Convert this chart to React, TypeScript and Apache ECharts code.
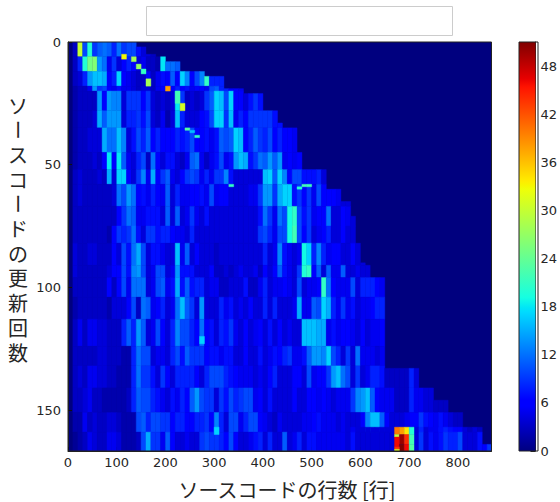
import React, { useEffect, useRef } from "react";
import * as echarts from "echarts";

const xTitle = "ソースコードの行数 [行]";
const yTitleChars = ["ソ", "ー", "ス", "コ", "ー", "ド", "の", "更", "新", "回", "数"];
const colWidth = 10;
const xMax = 869;
const yMax = 166.7;
const barMax = 51.1;

// right edge of the filled area: [first row, number of filled columns]
const edges = [
  [0, 14], [2, 16], [5, 18], [6, 20], [8, 23], [12, 28], [14, 32], [19, 36], [21, 40], [28, 43],
  [33, 44], [35, 47], [45, 48], [52, 53], [60, 56], [65, 58], [71, 59], [82, 60], [90, 62], [96, 65],
  [133, 72], [141, 75], [146, 78], [151, 81], [157, 85], [164, 87],
];

// bands: [first row, end row, value per column]; -1 leaves a column to the band below it
const b00 = [0, 3, 30, 10, 20, 9, 11, 12, 11, 8, 12, 9, 10, 10, 7, 4, 4, 3];
const b06 = [0, 3, 8, 20, 25, 26, 14, 12, 5, 9, 4, 6, 8, 6, 4, 5, 3, 3, 2, 18, 12, 12, 11, 11];
const b12 = [0, 3, 4, 8, 14, 16, 16, 15, 6, 8, 17, 6, 5, 4, 3, 3, 6, 3, 5, 7, 6, 11, 6, 17, 13, 6, 10, 13, 21, 8, 8, 8];
const b18 = [0, 2, 3, 3, 5, 14, 9, 10, 6, 5, 7, 5, 5, 4, 3, 4, 4, 3, 5, 6, 7, 6, 8, 6, 7, 5, 6, 6, 5, 10, 11, 8, 8, 6, 6, 5];
const b20 = [0, 2, 3, 3, 3, 3, 14, 6, 14, 13, 13, 4, 9, 9, 9, 6, 9, 4, 3, 4, 3, 4, 18, 9, 3, 4, 3, 4, 9, 11, 17, 16, 10, 17, 6, 6, 4, 7, 9, 7, 10];
const b28 = [0, 2, 3, 3, 3, 4, 15, 11, 14, 14, 14, 4, 8, 8, 9, 7, 10, 4, 3, 5, 2, 4, 16, 8, 4, 4, 4, 6, 7, 10, 17, 17, 9, 16, 5, 8, 6, 9, 9, 9, 9, 9, 7, 7];
const b35 = [0, 2, 3, 3, 4, 4, 4, 15, 12, 12, 16, 13, 4, 7, 10, 8, 11, 6, 8, 6, 6, 6, 8, 7, 8, 10, 6, 6, 7, 5, 7, 11, 10, 11, 17, 16, 6, 8, 11, 9, 8, 10, 6, 8, 6, 6, 5];
const b45 = [0, 2, 3, 3, 3, 4, 3, 6, 18, 6, 18, 11, 5, 4, 8, 10, 3, 12, 6, 4, 7, 7, 4, 3, 5, 11, 12, 5, 3, 5, 7, 10, 5, 7, 14, 16, 15, 7, 9, 12, 11, 14, 11, 14, 5, 6, 5, 6];
const b52 = [0, 3, 4, 3, 3, 3, 4, 3, 15, 4, 17, 17, 6, 4, 9, 13, 5, 15, 6, 9, 11, 5, 4, 6, 9, 10, 9, 5, 8, 5, 9, 9, 13, 7, 4, 4, 4, 4, 4, 4, 16, 17, 11, 17, 13, 6, 10, 10, 7, 7, 7, 8, 4];
const b58 = [0, 3, 4, 3, 3, 3, 3, 3, 3, 4, 12, 10, 14, 12, 6, 7, 5, 8, 6, 5, 11, 4, 8, 5, 5, 6, 6, 7, 5, 10, 5, 6, 6, 4, 4, 4, 4, 5, 5, 9, 14, 14, 9, 15, 17, 17, 7, 9, 6, 9, 5, 10, 6, 6, 6, 5, 4, 4];
const b67 = [0, 3, 3, 3, 3, 3, 3, 3, 3, 3, 6, 9, 12, 11, 5, 5, 7, 7, 7, 4, 11, 4, 11, 4, 5, 9, 5, 4, 7, 4, 4, 4, 4, 4, 4, 4, 4, 4, 4, 7, 12, 9, 5, 12, 10, 19, 21, 10, 7, 9, 5, 6, 6, 12, 4, 4, 6, 5, 4];
const b75 = [0, 3, 3, 3, 3, 3, 3, 3, 2, 6, 9, 8, 9, 12, 7, 4, 9, 9, 7, 8, 8, 6, 5, 5, 4, 8, 4, 4, 4, 4, 4, 4, 4, 4, 4, 4, 4, 4, 4, 9, 10, 8, 5, 10, 10, 19, 22, 10, 6, 9, 4, 5, 6, 8, 4, 4, 6, 4, 4];
const b82 = [0, 4, 3, 3, 4, 4, 3, 3, 3, 6, 4, 10, 7, 12, 15, 10, 4, 7, 7, 5, 4, 4, 16, 5, 11, 4, 6, 4, 4, 4, 3, 4, 4, 4, 4, 4, 4, 4, 4, 4, 8, 4, 5, 13, 7, 5, 4, 5, 19, 17, 8, 13, 8, 5, 6, 6, 4, 4, 6, 4, 4];
const b91 = [0, 4, 3, 3, 3, 3, 3, 3, 4, 6, 6, 10, 7, 13, 14, 10, 4, 5, 10, 10, 4, 5, 14, 7, 7, 7, 4, 4, 4, 6, 3, 3, 4, 3, 4, 5, 4, 4, 5, 3, 6, 4, 6, 11, 7, 5, 4, 9, 20, 21, 6, 11, 4, 11, 5, 5, 11, 4, 4, 5, 4, 4];
const b96 = [0, 3, 3, 3, 3, 3, 3, 3, 6, 3, 6, 10, 5, 12, 12, 12, 4, 5, 10, 11, 5, 7, 15, 7, 11, 7, 8, 8, 4, 5, 5, 3, 3, 4, 4, 4, 7, 3, 3, 5, 8, 4, 5, 5, 6, 5, 4, 10, 4, 5, 5, 6, 21, 12, 6, 5, 5, 5, 10, 4, 8, 8, 8, 6, 5];
const b104 = [0, 2, 3, 3, 3, 3, 3, 3, 2, 4, 4, 4, 6, 10, 3, 12, 11, 5, 6, 8, 4, 5, 12, 16, 11, 9, 4, 14, 4, 4, 4, 8, 5, 7, 4, 5, 4, 6, 4, 4, 8, 4, 8, 4, 4, 4, 5, 15, 5, 5, 11, 10, 17, 15, 8, 5, 9, 5, 7, 4, 5, 5, 6, 8, 8];
const b113 = [0, 3, 5, 3, 5, 5, 4, 4, 3, 3, 3, 8, 11, 8, 14, 11, 4, 5, 10, 6, 4, 8, 13, 10, 10, 8, 6, 12, 6, 7, 4, 8, 7, 9, 5, 4, 6, 4, 5, 6, 4, 7, 4, 6, 4, 5, 4, 4, 16, 16, 16, 15, 15, 5, 7, 5, 6, 6, 5, 4, 6, 4, 5, 5, 6];
const b124 = [0, 3, 3, 3, 3, 3, 4, 4, 3, 3, 3, 2, 2, 8, 12, 10, 10, 4, 5, 5, 4, 8, 10, 7, 11, 9, 9, 9, 6, 7, 7, 5, 7, 7, 4, 4, 6, 4, 4, 7, 4, 5, 7, 6, 8, 9, 5, 5, 7, 11, 14, 14, 13, 17, 10, 8, 4, 9, 4, 12, 5, 5, 5, 4, 5];
const b132 = [0, 3, 4, 3, 5, 5, 4, 4, 3, 3, 2, 2, 2, 8, 12, 9, 9, 7, 4, 9, 6, 4, 8, 8, 8, 8, 6, 4, 8, 10, 10, 10, 8, 7, 6, 5, 5, 5, 4, 5, 4, 6, 8, 4, 4, 4, 6, 6, 4, 10, 5, 6, 6, 9, 14, 16, 12, 10, 4, 9, 4, 5, 8, 8, 7, 3, 3, 3, 3, 3, 8, 4];
const b141 = [0, 3, 3, 4, 5, 3, 3, 2, 2, 2, 2, 2, 3, 8, 11, 10, 10, 8, 7, 5, 4, 7, 5, 8, 6, 11, 14, 10, 9, 9, 4, 9, 7, 10, 8, 9, 10, 10, 5, 6, 4, 7, 4, 4, 4, 4, 6, 4, 4, 6, 6, 5, 6, 5, 4, 5, 5, 5, 9, 13, 14, 16, 11, 6, 5, 5, 5, 3, 3, 3, 8, 5, 5, 4, 4, 3, 3, 3];
const b151 = [0, 2, 2, 5, 3, 4, 3, 3, 4, 4, 3, 2, 2, 2, 10, 11, 8, 10, 10, 9, 9, 6, 8, 8, 6, 6, 8, 8, 9, 6, 13, 8, 4, 10, 10, 5, 8, 10, 10, 6, 5, 4, 3, 5, 4, 4, 4, 4, 5, 5, 6, 7, 5, 5, 5, 4, 5, 4, 4, 4, 6, 13, 16, 16, 11, 6, 4, 4, 4, 5, 6, 6, 9, 7, 6, 5, 7, 5, 4, 3, 3];
const b157 = [-1, -1, -1, -1, -1, -1, -1, -1, -1, -1, -1, -1, -1, -1, -1, -1, -1, -1, -1, -1, -1, -1, -1, -1, -1, -1, -1, -1, -1, -1, -1, -1, -1, -1, -1, -1, -1, -1, -1, -1, -1, -1, -1, -1, -1, -1, -1, -1, -1, -1, -1, -1, -1, -1, -1, -1, -1, 4, 5, 4, 4, 4, 4, 4, 4, 4, 4, 4, 4, 4, 4, 4, 8, 4, 5, 5, 7, 8, 7, 6, 6, 4, 3, 4, 3];
const b159 = [0, 1, 2, 3, 5, 4, 3, 3, 5, 5, 4, 2, 2, 2, 3, 10, 15, 9, 9, 5, 11, 6, 4, 4, 5, 4, 4, 9, 10, 9, 9, 8, 6, 10, 6, 4, 4, 5, 7, 8, 4, 8, 4, 4, 11, 4, 5, 8, 4, 7, 7, 5, 5, 5, 5, 5, 5, 4, 7, 4, 4, 4, 4, 4, 4, 4, 4, 4, 4, 4, 4, 4, 9, 4, 7, 5, 7, 9, 8, 8, 10, 4, 4, 4, 7, 6, 9];

const bands: [number, number, number[]][] = [
  [0, 6, b00], [6, 12, b06], [12, 18, b12], [18, 20, b18], [20, 28, b20], [28, 35, b28], [35, 45, b35],
  [45, 52, b45], [52, 58, b52], [58, 67, b58], [67, 75, b67], [75, 82, b75], [82, 91, b82], [91, 96, b91],
  [96, 104, b96], [104, 113, b104], [113, 124, b113], [124, 132, b124], [132, 141, b132], [141, 151, b141],
  [151, 159, b151], [157, 159, b157], [159, 167, b159],
];

// single bright cells: [column, first row, end row, value]
const spots = [
  [11, 5, 7, 33], [13, 6, 8, 28], [14, 9, 11, 27], [15, 11, 13, 21], [16, 15, 18, 28], [20, 18, 20, 38],
  [22, 20, 25, 22], [23, 25, 28, 31], [24, 35, 36, 23], [25, 36, 37, 16], [26, 38, 39, 21],
  [33, 58, 59, 21], [48, 58, 59, 22], [49, 58, 59, 22], [47, 59, 60, 20],
  [27, 120, 123, 17], [30, 157, 160, 17],
  [67, 157, 160, 40], [68, 157, 160, 38], [69, 157, 160, 34], [70, 157, 160, 20],
  [67, 160, 161, 30], [68, 160, 164, 50], [69, 160, 164, 44], [70, 160, 164, 22], [67, 161, 165, 46],
  [68, 164, 167, 51], [69, 164, 167, 46], [70, 164, 167, 23], [67, 165, 166, 44], [67, 166, 167, 32],
];

const jetR = [[0, 0], [0.35, 0], [0.66, 1], [0.89, 1], [1, 0.5]];
const jetG = [[0, 0], [0.125, 0], [0.375, 1], [0.64, 1], [0.91, 0], [1, 0]];
const jetB = [[0, 0.5], [0.11, 1], [0.34, 1], [0.65, 0], [1, 0]];
const jetStops = [0, 0.11, 0.125, 0.34, 0.35, 0.375, 0.64, 0.65, 0.66, 0.89, 0.91, 1];

function channel(t: number, table: number[][]) {
  for (let i = 1; i < table.length; i++) {
    if (t <= table[i][0]) {
      const [a, av] = table[i - 1];
      const [b, bv] = table[i];
      return Math.round(255 * (av + ((t - a) / (b - a)) * (bv - av)));
    }
  }
  return Math.round(255 * table[table.length - 1][1]);
}
function jet(t: number) {
  const c = Math.max(0, Math.min(1, t));
  return `rgb(${channel(c, jetR)},${channel(c, jetG)},${channel(c, jetB)})`;
}

function edgeAt(row: number) {
  let e = 0;
  for (const [r, c] of edges) if (row >= r) e = c;
  return e;
}

function buildCells() {
  const out: number[][] = [];
  for (const [r0, r1, vals] of bands) {
    vals.forEach((v, col) => {
      if (v <= 0) return;
      let start = -1;
      for (let r = r0; r <= r1; r++) {
        const on = r < r1 && col < edgeAt(r);
        if (on && start < 0) start = r;
        if (!on && start >= 0) {
          out.push([col * colWidth, start, (col + 1) * colWidth, r, v]);
          start = -1;
        }
      }
    });
  }
  for (const [col, r0, r1, v] of spots) out.push([col * colWidth, r0, (col + 1) * colWidth, r1, v]);
  return out;
}

const axisText = { color: "#262626", fontFamily: "DejaVu Sans", fontSize: 13 };

export default function App() {
  const ref = useRef<HTMLDivElement>(null);
  useEffect(() => {
    document.body.style.margin = "0";
    const chart = echarts.init(ref.current!, null, { renderer: "svg" });
    chart.setOption({
      animation: false,
      backgroundColor: "#fff",
      grid: [
        { left: 68, top: 42, width: 423.5, height: 409, show: true, backgroundColor: "#00007f", borderWidth: 0 },
        { left: 519, top: 42, width: 19, height: 409 },
      ],
      xAxis: [
        {
          type: "value", gridIndex: 0, min: 0, max: xMax, interval: 100, position: "bottom",
          axisLine: { onZero: false, lineStyle: { color: "#222" } },
          axisTick: { inside: true, length: 4, lineStyle: { color: "#111" } },
          axisLabel: { ...axisText, margin: 5, showMaxLabel: false, hideOverlap: false },
          splitLine: { show: false },
        },
        { type: "value", gridIndex: 1, min: 0, max: 1, show: false },
      ],
      yAxis: [
        {
          type: "value", gridIndex: 0, min: 0, max: yMax, interval: 50, inverse: true,
          axisLine: { onZero: false, lineStyle: { color: "#222" } },
          axisTick: { inside: true, length: 4, lineStyle: { color: "#111" } },
          axisLabel: { ...axisText, margin: 7, showMaxLabel: false },
          splitLine: { show: false },
        },
        {
          type: "value", gridIndex: 1, min: 0, max: barMax, interval: 6, position: "right",
          axisLine: { onZero: false, lineStyle: { color: "#222" } },
          axisTick: { inside: true, length: 5, lineStyle: { color: "#222" } },
          axisLabel: { ...axisText, margin: 5, showMaxLabel: false },
          splitLine: { show: false },
        },
      ],
      series: [
        {
          type: "custom", xAxisIndex: 0, yAxisIndex: 0, silent: true, clip: true,
          data: buildCells(),
          encode: { x: [0, 2], y: [1, 3] },
          renderItem: (_p: any, api: any) => {
            const a = api.coord([api.value(0), api.value(1)]);
            const b = api.coord([api.value(2), api.value(3)]);
            const fill = jet(api.value(4) / barMax);
            return {
              type: "rect",
              shape: { x: a[0], y: a[1], width: b[0] - a[0], height: b[1] - a[1] },
              style: { fill, stroke: fill, lineWidth: 0.4 },
            };
          },
        },
        {
          type: "custom", xAxisIndex: 1, yAxisIndex: 1, silent: true,
          data: [[0, 0, 1, barMax]],
          encode: { x: [0, 2], y: [1, 3] },
          renderItem: (_p: any, api: any) => {
            const a = api.coord([api.value(0), api.value(1)]);
            const b = api.coord([api.value(2), api.value(3)]);
            return {
              type: "rect",
              shape: { x: a[0], y: b[1], width: b[0] - a[0], height: a[1] - b[1] },
              style: {
                fill: new echarts.graphic.LinearGradient(
                  0, 1, 0, 0,
                  jetStops.map((s) => ({ offset: s, color: jet(s) })),
                ),
              },
            };
          },
        },
      ],
      graphic: [
        { type: "rect", shape: { x: 146.5, y: 6.5, width: 306, height: 29 }, style: { fill: "#fff", stroke: "#ccc", lineWidth: 1 } },
        { type: "rect", z: 100, shape: { x: 68, y: 42, width: 423.5, height: 409 }, style: { fill: "none", stroke: "#222", lineWidth: 1 } },
        { type: "rect", z: 100, shape: { x: 519, y: 42, width: 19, height: 409 }, style: { fill: "none", stroke: "#222", lineWidth: 1 } },
        {
          type: "text", x: 287, y: 489,
          style: { text: xTitle, font: '20px "Noto Sans CJK JP"', fill: "#262626", textAlign: "center", textVerticalAlign: "middle" },
        },
        ...yTitleChars.map((ch, i) => ({
          type: "text",
          x: 18,
          y: 105 + i * 24.7,
          rotation: ch === "ー" ? -Math.PI / 2 : 0,
          style: { text: ch, font: '20px "Noto Sans CJK JP"', fill: "#262626", textAlign: "center", textVerticalAlign: "middle" },
        })),
      ],
    });
    return () => chart.dispose();
  }, []);
  return <div ref={ref} style={{ position: "absolute", left: 0, top: 0, width: 560, height: 502 }} />;
}
